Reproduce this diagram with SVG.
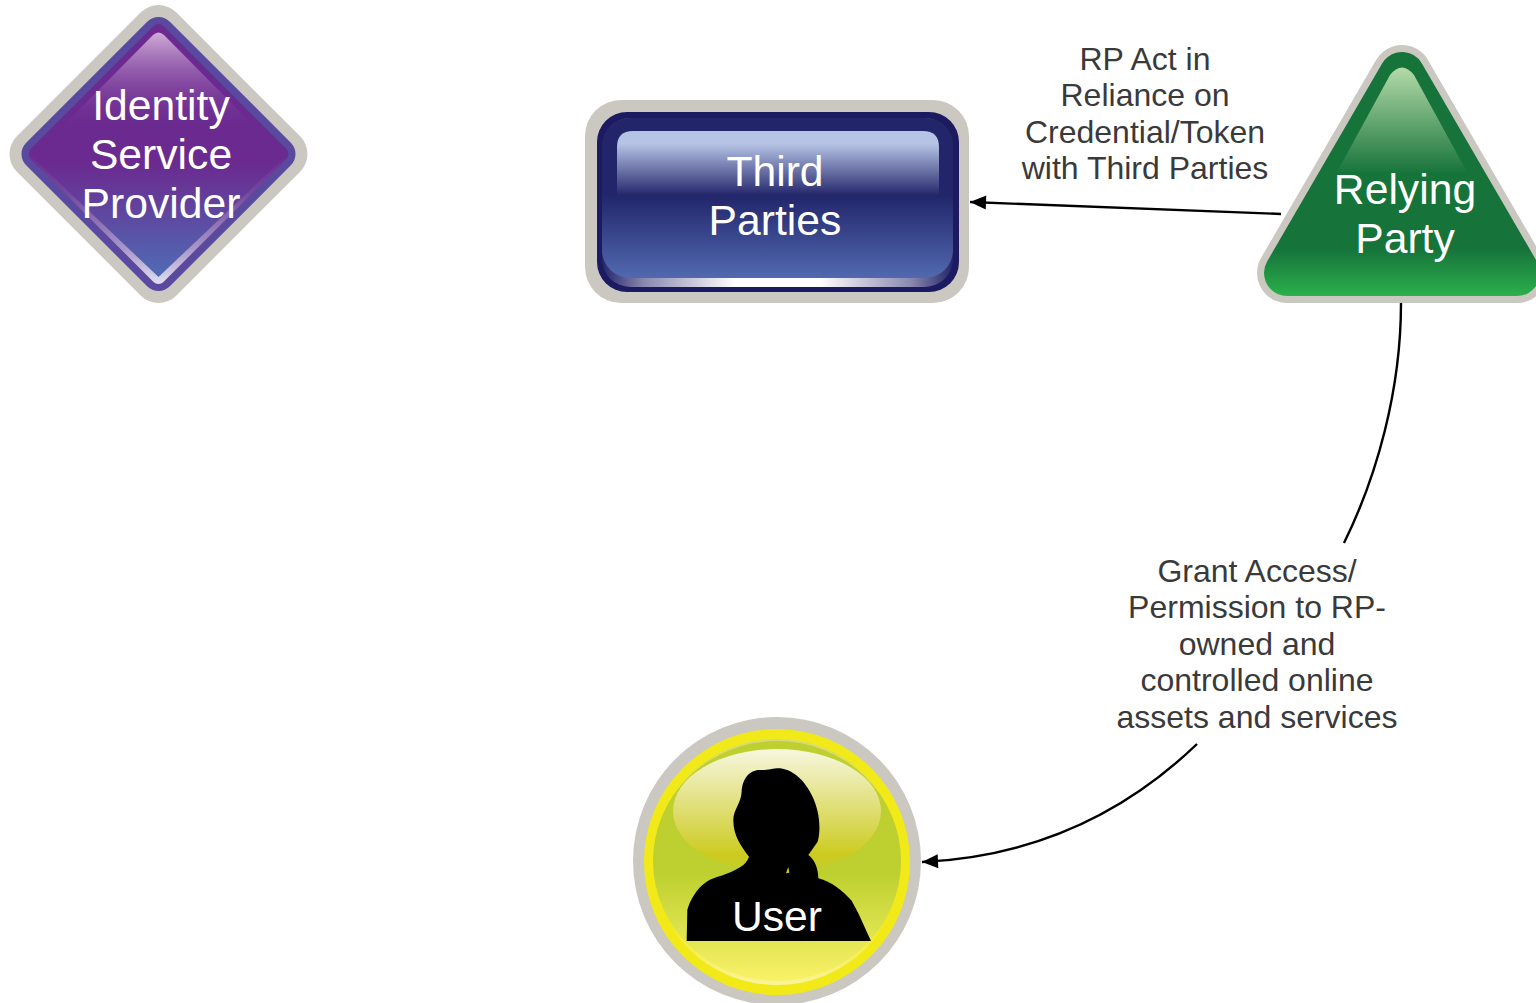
<svg xmlns="http://www.w3.org/2000/svg" width="1536" height="1003" viewBox="0 0 1536 1003">
<style>
.n{font-family:"Liberation Sans",Arial,sans-serif;font-size:42.67px;fill:#fff;text-anchor:middle}
.l{font-family:"Liberation Sans",Arial,sans-serif;font-size:32px;fill:#3a3a3a;text-anchor:middle}
.c{fill:none;stroke:#000;stroke-width:2.4}
.j{stroke-linejoin:round}
</style>
<defs>
<marker id="arrow" markerUnits="userSpaceOnUse" markerWidth="18" markerHeight="16" refX="17" refY="8" orient="auto"><path d="M1 1L17 8L1 15Z" fill="#000"/></marker>
<linearGradient id="pb" x1="0" y1="0" x2="0" y2="1"><stop offset="0" stop-color="#6b2a90"/><stop offset=".55" stop-color="#6b2a90"/><stop offset="1" stop-color="#4f6cb4"/></linearGradient>
<linearGradient id="pg" x1="0" y1="0" x2="0" y2="1"><stop offset="0" stop-color="#d2acd8"/><stop offset="1" stop-color="#6b2a90" stop-opacity=".1"/></linearGradient>
<linearGradient id="pr" gradientUnits="userSpaceOnUse" x1="0" y1="154" x2="0" y2="287"><stop offset="0" stop-color="#6b2a90"/><stop offset=".3" stop-color="#75499f"/><stop offset=".7" stop-color="#a794c8"/><stop offset="1" stop-color="#e6e4f3"/></linearGradient>
<linearGradient id="bb" x1="0" y1="0" x2="0" y2="1"><stop offset="0" stop-color="#22256a"/><stop offset=".48" stop-color="#22256a"/><stop offset="1" stop-color="#5169b0"/></linearGradient>
<linearGradient id="bg" x1="0" y1="0" x2="0" y2="1"><stop offset="0" stop-color="#b5c3e5"/><stop offset=".2" stop-color="#b5c3e5"/><stop offset="1" stop-color="#b5c3e5" stop-opacity=".02"/></linearGradient>
<linearGradient id="bh" x1="0" y1="0" x2="1" y2="0"><stop offset="0" stop-color="#22256a"/><stop offset=".12" stop-color="#8a88b0"/><stop offset=".38" stop-color="#fff"/><stop offset=".62" stop-color="#fff"/><stop offset=".88" stop-color="#8a88b0"/><stop offset="1" stop-color="#22256a"/></linearGradient>
<linearGradient id="gb" gradientUnits="userSpaceOnUse" x1="0" y1="60" x2="0" y2="296"><stop offset="0" stop-color="#16733a"/><stop offset=".8" stop-color="#16733a"/><stop offset="1" stop-color="#2bb04c"/></linearGradient>
<linearGradient id="gg" gradientUnits="userSpaceOnUse" x1="0" y1="66" x2="0" y2="172"><stop offset="0" stop-color="#b6dcaa"/><stop offset="1" stop-color="#b6dcaa" stop-opacity=".02"/></linearGradient>
<linearGradient id="yb" x1="0" y1="0" x2="0" y2="1"><stop offset="0" stop-color="#bdd02f"/><stop offset=".55" stop-color="#bdd02f"/><stop offset="1" stop-color="#f9f268"/></linearGradient>
<linearGradient id="yr" x1="0" y1="0" x2="0" y2="1"><stop offset="0" stop-color="#d5d880"/><stop offset=".25" stop-color="#f2e918"/><stop offset=".75" stop-color="#f2e918"/><stop offset="1" stop-color="#f9f49c"/></linearGradient>
<linearGradient id="yg" x1="0" y1="0" x2="0" y2="1"><stop offset="0" stop-color="#f7f7e0"/><stop offset=".85" stop-color="#cdcb20"/><stop offset="1" stop-color="#cdcb20" stop-opacity=".15"/></linearGradient>
</defs>
<g id="identity-service-provider">
<path class="j" d="M158.500 30L282.500 154L158.500 278L34.500 154Z" fill="#cbc8c1" stroke="#cbc8c1" stroke-width="50"/>
<path class="j" d="M158.500 33L279.500 154L158.500 275L37.500 154Z" fill="#5a4a9f" stroke="#5a4a9f" stroke-width="32"/>
<path class="j" d="M158.500 31L281.500 154L158.500 277L35.500 154Z" fill="url(#pr)" stroke="url(#pr)" stroke-width="14"/>
<path d="M158.500 25L288 154L158.500 277L29 154Z" fill="url(#pb)"/>
<path d="M153 35Q158.500 30 164 35L256 128H61Z" fill="url(#pg)"/>
<text class="n" x="161" y="120">Identity</text>
<text class="n" x="161" y="169">Service</text>
<text class="n" x="161" y="218">Provider</text>
</g>
<g id="third-parties">
<rect x="585" y="100" width="384" height="203" rx="36" fill="#cbc8c1"/>
<rect x="597" y="112" width="362" height="180" rx="30" fill="#1c1a60"/>
<rect x="602" y="118" width="351" height="169" rx="28" fill="url(#bh)"/>
<rect x="602" y="118" width="351" height="160" rx="28" fill="url(#bb)"/>
<path d="M617 195V147Q617 131 633 131H923Q939 131 939 147V195Z" fill="url(#bg)"/>
<text class="n" x="775" y="186">Third</text>
<text class="n" x="775" y="235">Parties</text>
</g>
<g id="relying-party">
<path class="j" d="M1402 75L1517 273L1287 273Z" fill="#cbc8c1" stroke="#cbc8c1" stroke-width="60"/>
<path class="j" d="M1402 75L1517 273L1287 273Z" fill="url(#gb)" stroke="url(#gb)" stroke-width="46"/>
<path d="M1390 75Q1402 60 1414 75L1467 172H1337Z" fill="url(#gg)"/>
<text class="n" x="1405" y="204">Relying</text>
<text class="n" x="1405" y="253">Party</text>
</g>
<g id="user">
<circle cx="777" cy="861" r="144" fill="#cbc8c1"/>
<circle cx="777" cy="862" r="133" fill="#f2e918"/>
<ellipse cx="777" cy="862" rx="125" ry="123" fill="url(#yr)"/>
<ellipse cx="777" cy="861" rx="124" ry="120" fill="url(#yb)"/>
<ellipse cx="777" cy="811" rx="104" ry="62" fill="url(#yg)"/>
<path transform="translate(625 710) scale(.3333)" d="M185 693L187 600C195 570 215 535 245 515C270 500 310 495 345 472C358 465 368 452 372 440C350 410 325 380 325 330C325 300 348 280 350 245C352 210 370 180 405 180C425 182 440 175 465 175C510 180 545 220 565 265C580 300 590 350 578 395L550 435C565 445 580 470 580 505C620 515 650 540 680 572L700 610L738 693Z" fill="#000"/>
<path transform="translate(625 710) scale(.3333)" d="M483 490L490 470L493 488Z" fill="#cdcb20"/>
<text class="n" x="777" y="931">User</text>
</g>
<g id="labels">
<text class="l" x="1145" y="70">RP Act in</text>
<text class="l" x="1145" y="106">Reliance on</text>
<text class="l" x="1145" y="143">Credential/Token</text>
<text class="l" x="1145" y="179">with Third Parties</text>
<text class="l" x="1257" y="582">Grant Access/</text>
<text class="l" x="1257" y="618">Permission to RP-</text>
<text class="l" x="1257" y="655">owned and</text>
<text class="l" x="1257" y="691">controlled online</text>
<text class="l" x="1257" y="728">assets and services</text>
</g>
<g id="connectors">
<path class="c" d="M1281 214L970 202" marker-end="url(#arrow)"/>
<path class="c" d="M1401 303C1401 390 1377 476 1344 543"/>
<path class="c" d="M1197 744C1120 818 1030 857 922 862" marker-end="url(#arrow)"/>
</g>
</svg>
